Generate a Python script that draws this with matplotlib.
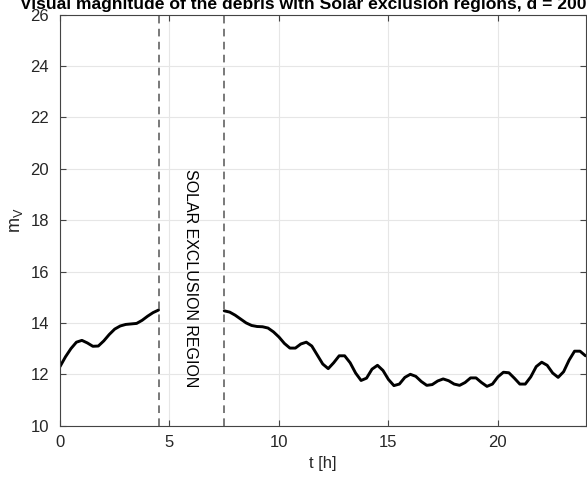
import matplotlib
matplotlib.use("Agg")
import matplotlib.pyplot as plt
import numpy as np

plt.rcParams['font.family'] = ['Liberation Sans', 'DejaVu Sans']

# Visible segment before solar exclusion (t in hours, visual magnitude)
t1 = [0.0, 0.25, 0.5, 0.75, 1.0, 1.25, 1.5, 1.75, 2.0, 2.25, 2.5, 2.75,
      3.0, 3.25, 3.5, 3.75, 4.0, 4.25, 4.5]
m1 = [12.30, 12.68, 13.00, 13.25, 13.32, 13.22, 13.09, 13.10, 13.30, 13.55,
      13.76, 13.88, 13.94, 13.96, 13.98, 14.10, 14.26, 14.40, 14.50]

# Visible segment after solar exclusion
t2 = [7.5, 7.75, 8.0, 8.25, 8.5, 8.75, 9.0, 9.25, 9.5, 9.75, 10.0, 10.25,
      10.5, 10.75, 11.0, 11.25, 11.5, 11.75, 12.0, 12.25, 12.5, 12.75, 13.0,
      13.25, 13.5, 13.75, 14.0, 14.25, 14.5, 14.75, 15.0, 15.25, 15.5, 15.75,
      16.0, 16.25, 16.5, 16.75, 17.0, 17.25, 17.5, 17.75, 18.0, 18.25, 18.5,
      18.75, 19.0, 19.25, 19.5, 19.75, 20.0, 20.25, 20.5, 20.75, 21.0, 21.25,
      21.5, 21.75, 22.0, 22.25, 22.5, 22.75, 23.0, 23.25, 23.5, 23.75, 24.0]
m2 = [14.47, 14.42, 14.30, 14.15, 14.00, 13.90, 13.86, 13.85, 13.80, 13.65,
      13.45, 13.20, 13.02, 13.02, 13.18, 13.25, 13.10, 12.75, 12.40, 12.22,
      12.45, 12.72, 12.72, 12.45, 12.05, 11.76, 11.85, 12.20, 12.35, 12.15,
      11.80, 11.56, 11.62, 11.88, 12.00, 11.92, 11.72, 11.57, 11.60, 11.74,
      11.82, 11.75, 11.62, 11.57, 11.68, 11.86, 11.86, 11.68, 11.53, 11.62,
      11.90, 12.08, 12.06, 11.85, 11.62, 11.62, 11.90, 12.30, 12.47, 12.35,
      12.05, 11.88, 12.10, 12.55, 12.90, 12.90, 12.72]

exclusion_bounds = [4.5, 7.5]
x_ticks = [0, 5, 10, 15, 20]
y_ticks = [10, 12, 14, 16, 18, 20, 22, 24, 26]

title = "Visual magnitude of the debris with Solar exclusion regions, d = 200 km"

W, H = 587, 478
fig = plt.figure(figsize=(W / 100, H / 100), dpi=100)
ax = fig.add_axes([60 / W, 1 - 425.7 / H, 525.5 / W, 411.2 / H])

ax.plot(t1, m1, color='black', lw=2.1, solid_joinstyle='round', solid_capstyle='round')
ax.plot(t2, m2, color='black', lw=2.1, solid_joinstyle='round', solid_capstyle='round')

for xb in exclusion_bounds:
    ax.axvline(xb, color='#555555', lw=1.1, linestyle=(0, (5, 3.5)))

ax.text(5.95, 20.0, "SOLAR EXCLUSION REGION", rotation=-90, ha='center', va='top',
        fontsize=11.5, color='black')

ax.set_xlim(0, 24)
ax.set_ylim(10, 26)
ax.set_xticks(x_ticks)
ax.set_yticks(y_ticks)
ax.grid(True, color='#e6e6e6', lw=0.8)
ax.set_axisbelow(True)
ax.tick_params(direction='in', top=True, right=True, length=4, width=0.8,
               color='#444444', labelsize=12, labelcolor='#262626')
ax.tick_params(axis='y', pad=8)
ax.tick_params(axis='x', pad=7)
for s in ax.spines.values():
    s.set_color('#444444')
    s.set_linewidth(0.8)

ax.set_xlabel("t [h]", fontsize=12, color='#262626', labelpad=4)
ax.set_ylabel("m$_\\mathregular{V}$", fontsize=13, color='#262626', labelpad=4)

fig.text(20 / W, 1 - 9 / H, title, ha='left', va='baseline', fontsize=12.6,
         fontweight='bold', color='black')

fig.savefig("out.png", dpi=100)
